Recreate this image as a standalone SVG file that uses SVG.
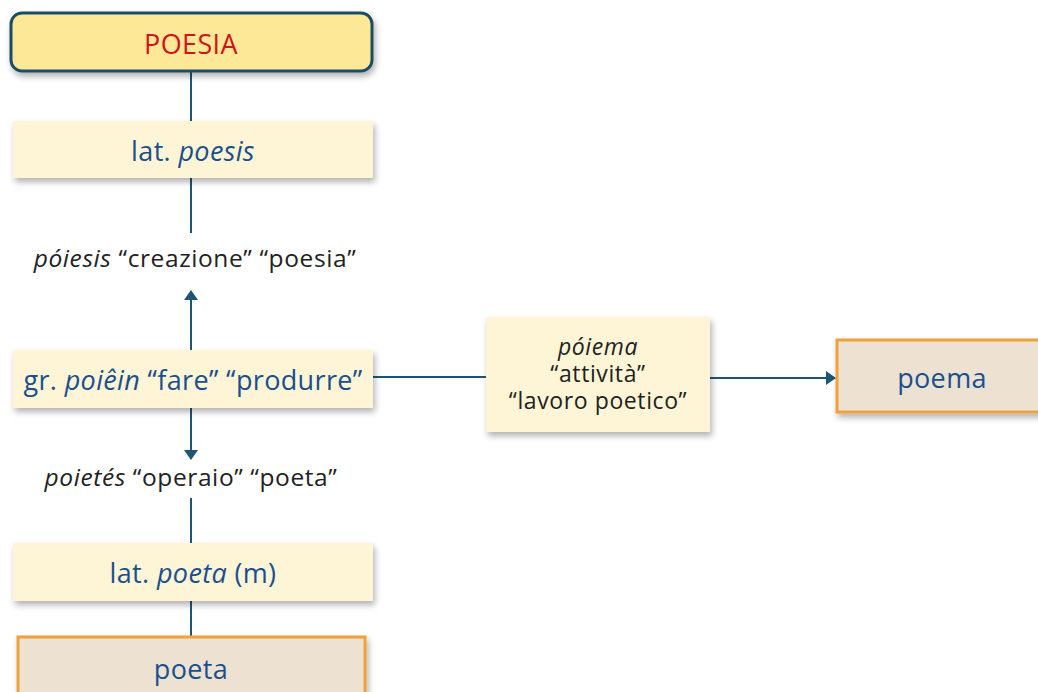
<svg xmlns="http://www.w3.org/2000/svg" width="1038" height="692" viewBox="0 0 1038 692">
<defs>
<filter id="sh" x="-10%" y="-20%" width="130%" height="160%">
<feDropShadow dx="2" dy="4" stdDeviation="3" flood-color="#000" flood-opacity="0.3"/>
</filter>
<marker id="ah" viewBox="0 0 10 14" refX="9" refY="7" markerWidth="10" markerHeight="14" markerUnits="userSpaceOnUse" orient="auto">
<path d="M0,0 L10,7 L0,14 z" fill="#1d5577"/>
</marker>
<style>
.ln{stroke:#1d5577;stroke-width:2;fill:none}
.lb{fill:#fdf5d5;filter:url(#sh)}
.fin{fill:#ede2d1;stroke:#efa23a;stroke-width:3;filter:url(#sh)}
.t{font-family:"Open Sans",Lato,sans-serif;font-size:27px;letter-spacing:0.35px;text-anchor:middle;fill:#1a4f8f}
.k{font-family:"Open Sans",Lato,sans-serif;font-size:24.5px;letter-spacing:0.6px;text-anchor:middle;fill:#222}
.s{font-size:23px}
.i{font-style:italic}
</style>
</defs>
<rect width="1038" height="692" fill="#fff"/>
<g id="connectors">
<line class="ln" x1="191" y1="71" x2="191" y2="121"/>
<line class="ln" x1="191" y1="178" x2="191" y2="233"/>
<line class="ln" x1="191" y1="350" x2="191" y2="291" marker-end="url(#ah)"/>
<line class="ln" x1="191" y1="408" x2="191" y2="459" marker-end="url(#ah)"/>
<line class="ln" x1="191" y1="498" x2="191" y2="543"/>
<line class="ln" x1="191" y1="601" x2="191" y2="637"/>
<line class="ln" x1="373" y1="377" x2="487" y2="377"/>
<line class="ln" x1="710" y1="378" x2="835" y2="378" marker-end="url(#ah)"/>
</g>
<g id="poesia">
<rect x="11" y="13" width="361" height="58" rx="11" fill="#fde898" stroke="#1f4d66" stroke-width="3" filter="url(#sh)"/>
<text class="t" x="191" y="54" style="fill:#d3121b">POESIA</text>
</g>
<g id="lat-poesis">
<rect class="lb" x="13" y="121" width="360" height="57"/>
<text class="t" x="193" y="161">lat. <tspan class="i">poesis</tspan></text>
</g>
<g id="poiesis">
<text class="k" x="195" y="267"><tspan class="i">póiesis</tspan> “creazione” “poesia”</text>
</g>
<g id="poiein">
<rect class="lb" x="13" y="350" width="360" height="58"/>
<text class="t" x="193" y="390">gr. <tspan class="i">poiêin</tspan> “fare” “produrre”</text>
</g>
<g id="poietes">
<text class="k" x="191" y="486"><tspan class="i">poietés</tspan> “operaio” “poeta”</text>
</g>
<g id="lat-poeta">
<rect class="lb" x="13" y="543" width="360" height="58"/>
<text class="t" x="193" y="583">lat. <tspan class="i">poeta</tspan> (m)</text>
</g>
<g id="poeta">
<rect class="fin" x="18" y="637" width="347" height="70"/>
<text class="t" x="191" y="679">poeta</text>
</g>
<g id="poiema">
<rect class="lb" x="486" y="317" width="224" height="115"/>
<text class="k s" x="598" y="355"><tspan class="i">póiema</tspan><tspan x="598" dy="27">“attività”</tspan><tspan x="598" dy="27">“lavoro poetico”</tspan></text>
</g>
<g id="poema">
<rect class="fin" x="837" y="340" width="210" height="72"/>
<text class="t" x="942" y="388">poema</text>
</g>
</svg>
